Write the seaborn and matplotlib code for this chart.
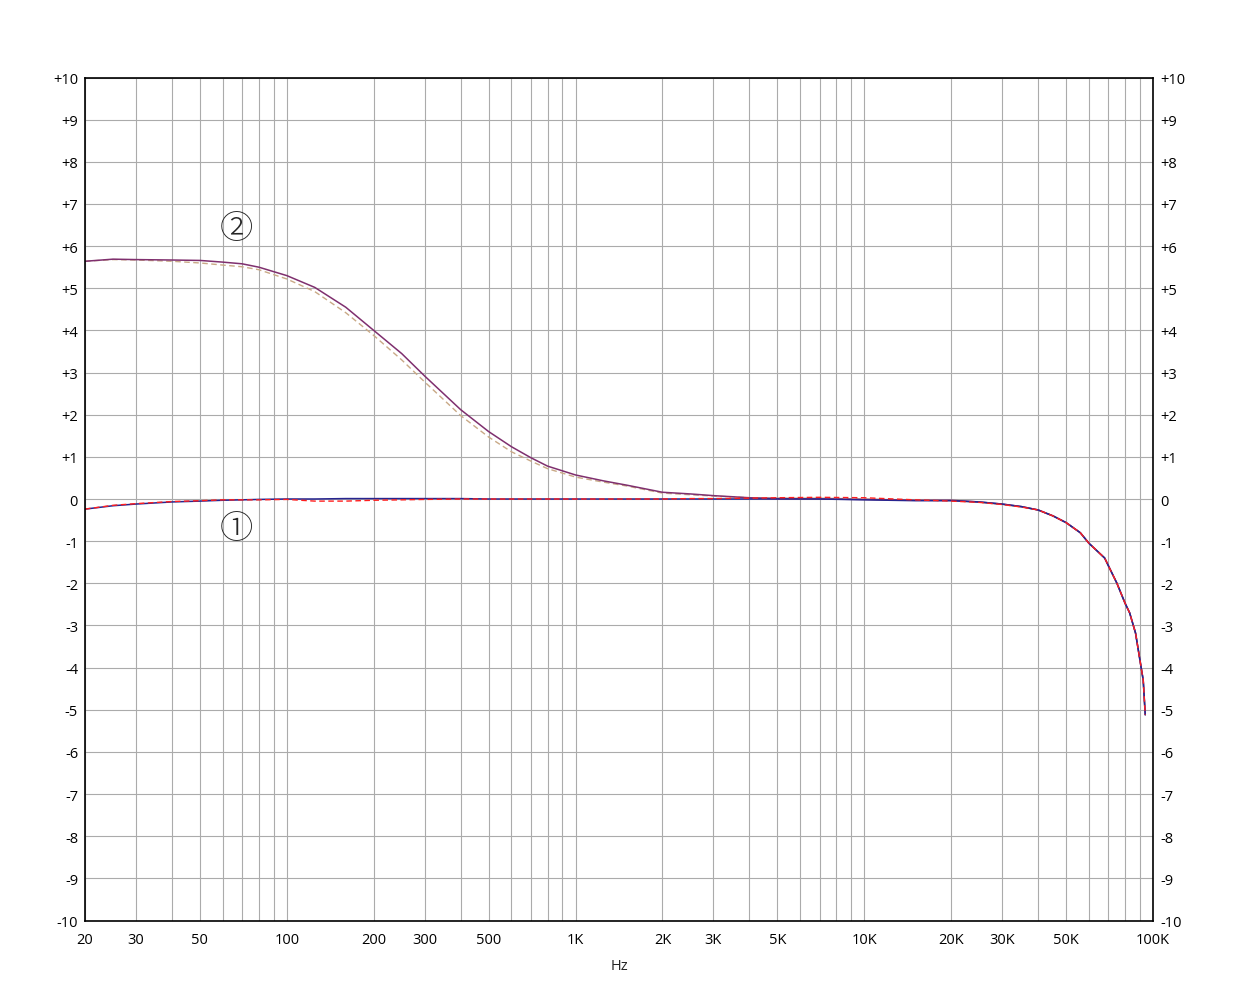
import numpy as np
import pandas as pd
import matplotlib
matplotlib.use("Agg")
import matplotlib.pyplot as plt
import seaborn as sns

# Fréquences (Hz) de la bande basse / médium
freq_low = [20, 25, 30, 40, 50, 60, 70, 80, 100, 125, 160, 200, 250, 300, 400,
            500, 600, 700, 800, 1000, 1250, 1500, 2000, 2500, 3000, 4000, 5000,
            7000, 10000, 15000, 20000, 25000, 30000, 35000]

# Chute commune en haut du spectre
freq_roll = [40000, 45000, 50000, 56000, 60000, 68000, 75000, 80000, 83000,
             87000, 90000, 92500, 94000]
db_roll = [-0.26, -0.40, -0.56, -0.80, -1.05, -1.40, -2.00, -2.47, -2.70,
           -3.18, -3.80, -4.30, -5.12]

# Courbe 2 (trait plein)
db_2_solid = [5.64, 5.69, 5.68, 5.67, 5.66, 5.62, 5.58, 5.50, 5.30, 5.02, 4.55,
              4.00, 3.45, 2.92, 2.12, 1.60, 1.24, 0.98, 0.78, 0.57, 0.43, 0.33,
              0.16, 0.12, 0.08, 0.03, 0.01, 0.00, -0.01, -0.03, -0.03, -0.07,
              -0.12, -0.18]
# Courbe 2 (pointillés)
db_2_dash = [5.64, 5.68, 5.67, 5.64, 5.60, 5.55, 5.51, 5.44, 5.22, 4.92, 4.42,
             3.88, 3.30, 2.78, 1.98, 1.47, 1.12, 0.90, 0.72, 0.52, 0.40, 0.31,
             0.14, 0.10, 0.07, 0.03, 0.02, 0.02, 0.00, -0.03, -0.04, -0.08,
             -0.13, -0.19]
# Courbe 1 (trait plein)
db_1_solid = [-0.24, -0.16, -0.12, -0.07, -0.05, -0.03, -0.02, -0.01, 0.00,
              0.00, 0.01, 0.01, 0.01, 0.01, 0.01, 0.00, 0.00, 0.00, 0.00, 0.00,
              0.00, 0.00, 0.00, 0.00, 0.00, 0.00, 0.00, 0.00, -0.02, -0.04,
              -0.04, -0.07, -0.12, -0.18]
# Courbe 1 (pointillés)
db_1_dash = [-0.24, -0.15, -0.11, -0.06, -0.04, -0.02, -0.02, -0.02, -0.01,
             -0.05, -0.05, -0.03, -0.02, -0.01, 0.00, 0.00, 0.00, 0.00, 0.00,
             0.00, 0.00, 0.00, 0.00, 0.01, 0.01, 0.02, 0.03, 0.04, 0.03, -0.02,
             -0.05, -0.08, -0.13, -0.19]

xtick_vals = [20, 30, 50, 100, 200, 300, 500, 1000, 2000, 3000, 5000, 10000,
              20000, 30000, 50000, 100000]
xtick_labels = ["20", "30", "50", "100", "200", "300", "500", "1K", "2K", "3K",
                "5K", "10K", "20K", "30K", "50K", "100K"]
ytick_vals = list(range(-10, 11))
ytick_labels = [f"+{v}" if v > 0 else str(v) for v in ytick_vals]

sns.set_style("white")
plt.rcParams["font.family"] = ["Open Sans", "DejaVu Sans"]

freq_all = freq_low + freq_roll
series = [
    (db_2_dash, "#c9a986", (0, (4, 2.5)), 1.0),
    (db_2_solid, "#7f2f6e", "-", 1.1),
    (db_1_solid, "#27248f", "-", 1.1),
    (db_1_dash, "#ff1e1e", (0, (4, 2.5)), 1.0),
]

fig = plt.figure(figsize=(12.4, 9.95), dpi=100)
ax = fig.add_axes([85 / 1240, 73.5 / 995, 1068 / 1240, 843 / 995])

for valeurs, couleur, style, lw in series:
    df = pd.DataFrame({"Hz": freq_all, "dB": valeurs + db_roll})
    sns.lineplot(data=df, x="Hz", y="dB", ax=ax, color=couleur,
                 linestyle=style, linewidth=lw, sort=False)

ax.set_xscale("log")
ax.set_xlim(20, 100000)
ax.set_ylim(-10, 10)

# Grille
minor = []
for dec in [10, 100, 1000, 10000]:
    for k in range(2, 11):
        f = k * dec
        if 20 <= f <= 100000:
            minor.append(f)
ax.set_xticks(minor, minor=True)
ax.set_xticks(xtick_vals)
ax.set_xticklabels(xtick_labels)
ax.xaxis.set_minor_formatter(matplotlib.ticker.NullFormatter())
ax.set_yticks(ytick_vals)
ax.set_yticklabels(ytick_labels)
ax.grid(True, which="both", axis="x", color="#ababab", linewidth=0.8)
ax.grid(True, which="major", axis="y", color="#ababab", linewidth=0.8)
ax.set_axisbelow(True)

ax.tick_params(axis="both", which="both", length=0, labelsize=10.5,
               colors="black")
ax.tick_params(axis="x", pad=8)
ax.tick_params(axis="y", pad=5, labelright=True)
for spine in ax.spines.values():
    spine.set_color("black")
    spine.set_linewidth(1.2)

ax.set_xlabel("Hz", fontsize=10.5, labelpad=8)
ax.set_ylabel("")

# Repères des courbes
for txt, yv in [("\u2461", 6.42), ("\u2460", -0.71)]:
    ax.text(66.7, yv, txt, fontsize=24, ha="center", va="center",
            fontweight="light", family=["Noto Sans CJK JP", "DejaVu Sans"])

fig.savefig("out.png", dpi=100)
